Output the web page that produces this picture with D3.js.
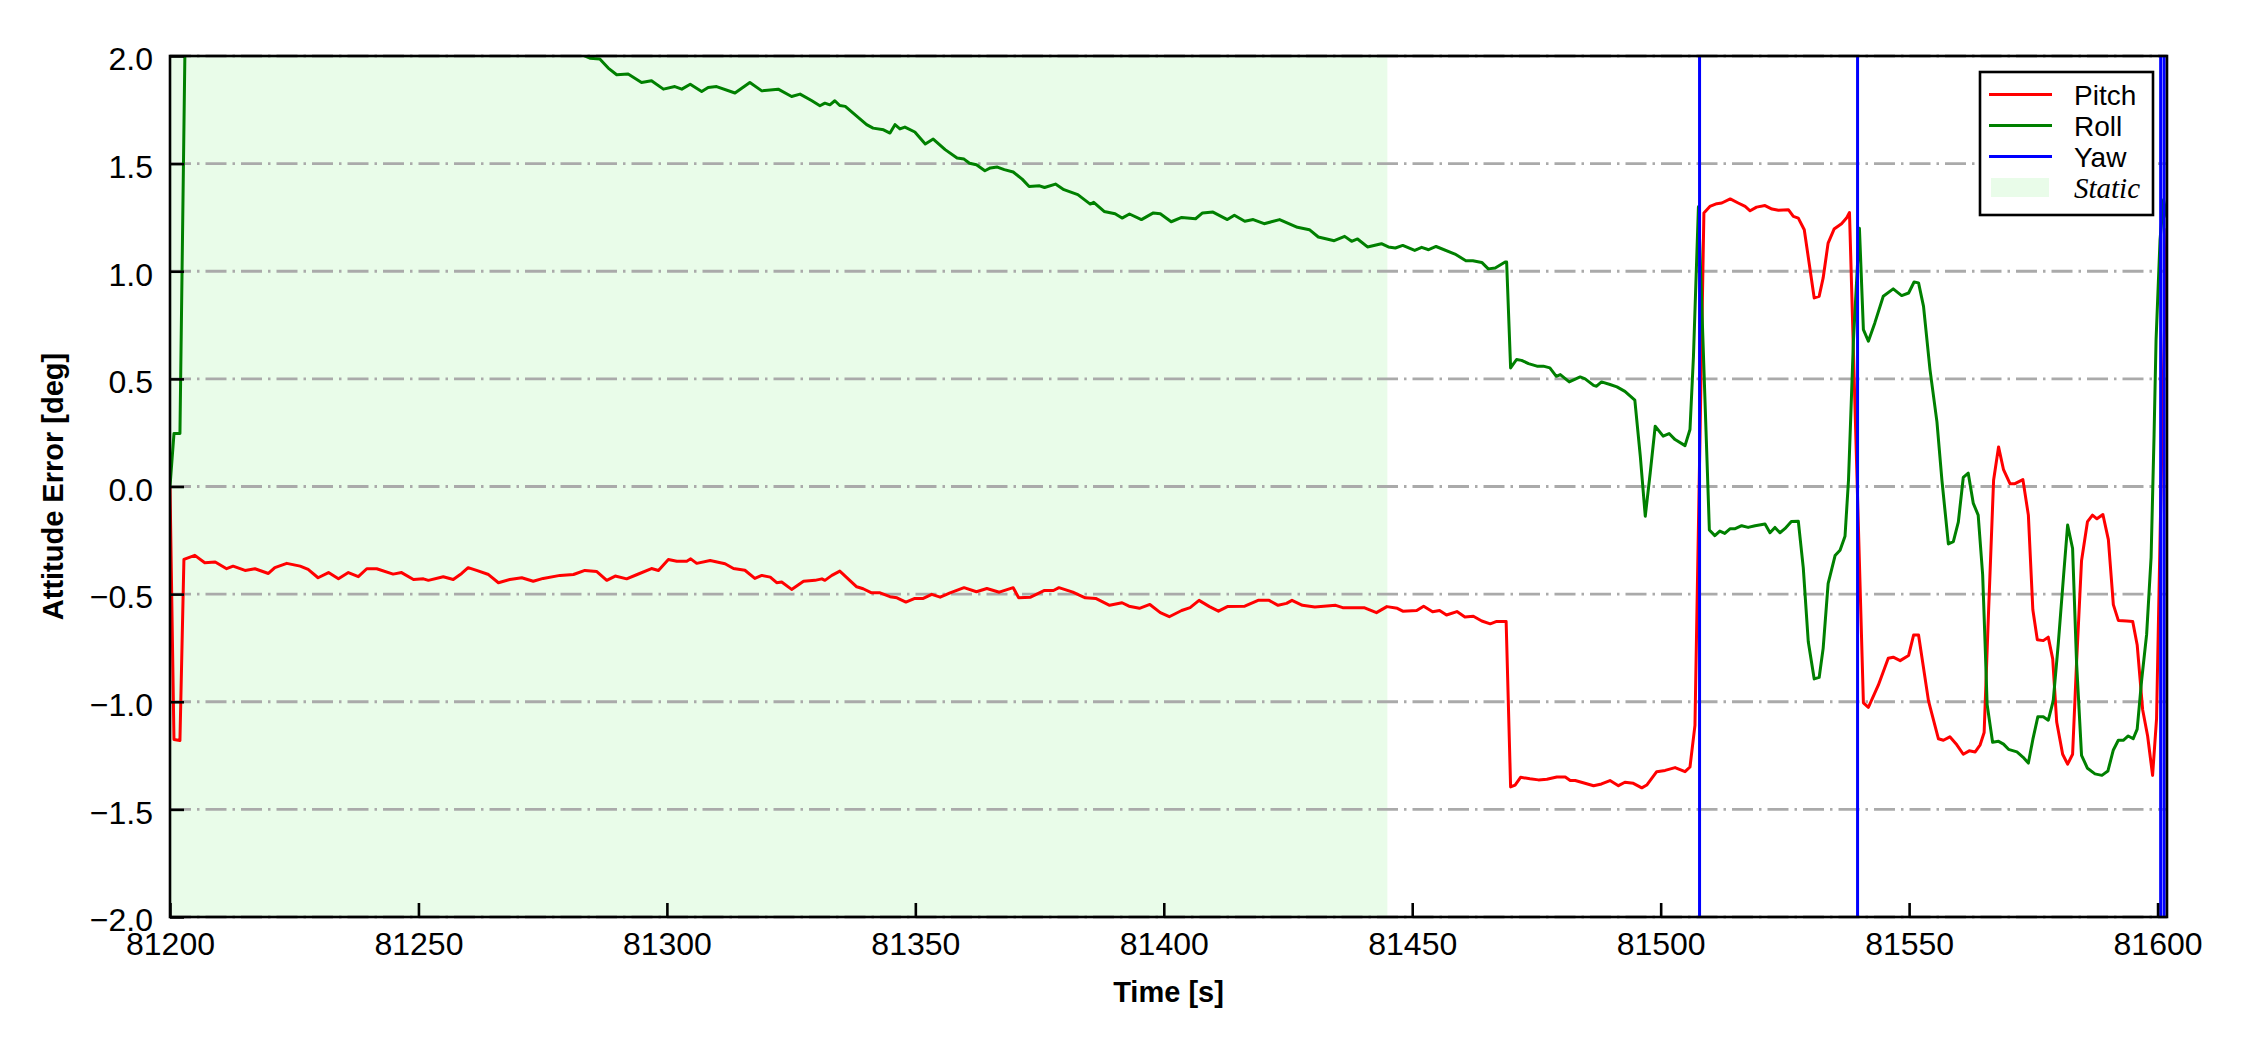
<!DOCTYPE html>
<html>
<head>
<meta charset="utf-8">
<script src="https://cdn.jsdelivr.net/npm/d3@7"></script>
<style>
    html, body { margin: 0; padding: 0; background: #fff; }
    svg { display: block; background: #fff; }
</style>
</head>
<body>
<svg id="chart" width="2250" height="1050"></svg>
<script>
// Time axis (s) and error values (deg)
const pitchTime = [
    81200.0, 81200.8, 81202.0, 81202.8, 81205.0, 81207.0, 81209.1, 81211.4, 81212.7, 81215.1,
    81217.1, 81219.8, 81221.1, 81223.5, 81226.2, 81227.8, 81229.8, 81231.9, 81233.9, 81235.9,
    81237.9, 81239.6, 81241.6, 81244.9, 81246.6, 81249.0, 81251.0, 81252.0, 81255.0, 81257.0,
    81258.7, 81260.0, 81261.7, 81264.1, 81266.1, 81268.4, 81270.8, 81273.1, 81275.1, 81278.5,
    81281.2, 81283.5, 81285.9, 81287.9, 81289.6, 81291.9, 81293.9, 81296.9, 81298.3, 81300.3,
    81302.0, 81304.0, 81304.8, 81306.0, 81308.7, 81311.7, 81313.4, 81315.7, 81317.7, 81319.1,
    81320.8, 81322.1, 81323.1, 81325.1, 81327.5, 81329.8, 81331.2, 81331.8, 81333.2, 81334.8,
    81338.2, 81339.5, 81341.2, 81342.9, 81344.9, 81346.3, 81348.1, 81349.9, 81351.6, 81353.3,
    81355.0, 81357.0, 81359.8, 81362.3, 81364.4, 81366.9, 81369.7, 81370.8, 81373.2, 81376.0,
    81377.8, 81378.9, 81381.7, 81384.2, 81386.3, 81389.1, 81391.6, 81393.0, 81395.1, 81397.2,
    81399.3, 81401.1, 81403.6, 81405.3, 81407.1, 81409.2, 81411.0, 81412.8, 81416.3, 81419.1,
    81421.2, 81423.0, 81424.7, 81425.8, 81427.9, 81430.4, 81434.6, 81436.0, 81440.3, 81442.8,
    81444.9, 81447.0, 81448.1, 81450.9, 81452.3, 81454.1, 81455.5, 81456.9, 81459.0, 81460.6,
    81462.3, 81464.0, 81465.7, 81467.0, 81468.9, 81469.8, 81470.7, 81471.8, 81473.7, 81475.4,
    81477.1, 81479.1, 81480.8, 81481.8, 81482.8, 81484.4, 81486.5, 81488.1, 81489.8, 81491.5,
    81492.8, 81494.5, 81496.2, 81497.2, 81499.2, 81500.9, 81502.9, 81504.9, 81505.9, 81506.9,
    81508.7, 81509.9, 81511.3, 81512.3, 81514.0, 81515.6, 81517.0, 81518.0, 81519.3, 81521.0,
    81522.4, 81523.7, 81525.7, 81526.7, 81527.7, 81528.9, 81530.9, 81531.9, 81532.7, 81533.7,
    81534.9, 81536.4, 81537.4, 81538.0, 81540.8, 81541.8, 81543.8, 81545.8, 81546.8, 81548.2,
    81549.9, 81550.9, 81551.9, 81553.9, 81555.9, 81556.9, 81558.2, 81559.6, 81560.9, 81562.1,
    81563.3, 81564.3, 81565.1, 81566.0, 81567.0, 81568.0, 81569.0, 81570.3, 81571.3, 81572.9,
    81574.0, 81574.9, 81575.8, 81577.0, 81578.0, 81578.9, 81579.7, 81580.9, 81581.9, 81582.9,
    81583.7, 81584.7, 81585.9, 81586.9, 81587.8, 81589.0, 81590.1, 81591.1, 81592.1, 81593.8,
    81595.0, 81595.9, 81597.0, 81598.0, 81599.0, 81599.8, 81601.0, 81601.9
]
const pitchValues = [
    0, -1.175, -1.18, -0.339, -0.32, -0.354, -0.351, -0.382, -0.37, -0.39,
    -0.382, -0.404, -0.377, -0.357, -0.37, -0.385, -0.424, -0.4, -0.429, -0.4,
    -0.419, -0.382, -0.382, -0.407, -0.4, -0.432, -0.429, -0.436, -0.419, -0.432,
    -0.404, -0.377, -0.39, -0.409, -0.447, -0.432, -0.424, -0.44, -0.427, -0.413,
    -0.409, -0.39, -0.395, -0.436, -0.416, -0.429, -0.41, -0.381, -0.39, -0.339,
    -0.347, -0.347, -0.336, -0.357, -0.344, -0.359, -0.381, -0.389, -0.427, -0.413,
    -0.421, -0.447, -0.444, -0.478, -0.44, -0.436, -0.429, -0.436, -0.413, -0.393,
    -0.466, -0.475, -0.494, -0.494, -0.512, -0.517, -0.537, -0.52, -0.52, -0.501,
    -0.514, -0.494, -0.47, -0.489, -0.474, -0.491, -0.47, -0.517, -0.514, -0.483,
    -0.483, -0.47, -0.491, -0.517, -0.52, -0.552, -0.54, -0.556, -0.566, -0.548,
    -0.586, -0.605, -0.576, -0.563, -0.529, -0.558, -0.579, -0.558, -0.556, -0.528,
    -0.529, -0.552, -0.543, -0.529, -0.552, -0.56, -0.552, -0.563, -0.563, -0.586,
    -0.558, -0.566, -0.579, -0.576, -0.556, -0.582, -0.576, -0.597, -0.581, -0.606,
    -0.603, -0.625, -0.638, -0.627, -0.627, -1.396, -1.387, -1.351, -1.358, -1.363,
    -1.36, -1.35, -1.35, -1.366, -1.366, -1.376, -1.39, -1.382, -1.366, -1.39,
    -1.374, -1.379, -1.4, -1.387, -1.325, -1.319, -1.306, -1.325, -1.303, -1.11,
    1.271, 1.301, 1.314, 1.317, 1.336, 1.317, 1.301, 1.281, 1.298, 1.305,
    1.289, 1.283, 1.286, 1.255, 1.247, 1.193, 0.876, 0.884, 0.969, 1.131,
    1.196, 1.221, 1.247, 1.273, -1.005, -1.026, -0.923, -0.798, -0.793, -0.809,
    -0.785, -0.69, -0.69, -0.996, -1.172, -1.179, -1.163, -1.2, -1.244, -1.228,
    -1.233, -1.2, -1.143, -0.573, 0.029, 0.184, 0.078, 0.013, 0.013, 0.032,
    -0.133, -0.573, -0.712, -0.716, -0.7, -0.801, -1.094, -1.244, -1.29, -1.244,
    -0.818, -0.345, -0.163, -0.133, -0.15, -0.13, -0.247, -0.549, -0.622, -0.625,
    -0.627, -0.736, -1.037, -1.159, -1.342, -1.078, 0.35, 1.2
]

const rollTime = [
    81200.0, 81200.8, 81202.0, 81203.5, 81220.0, 81250.0, 81275.0, 81282.5, 81284.5, 81286.5,
    81288.2, 81289.9, 81292.2, 81294.9, 81296.9, 81299.3, 81301.6, 81303.0, 81304.7, 81307.0,
    81308.3, 81310.0, 81313.7, 81316.7, 81319.1, 81322.4, 81325.1, 81326.8, 81329.1, 81330.8,
    81331.8, 81332.8, 81333.8, 81334.8, 81335.9, 81340.2, 81341.5, 81343.6, 81344.9, 81345.9,
    81346.9, 81347.9, 81349.9, 81352.0, 81353.6, 81356.0, 81358.4, 81359.8, 81360.9, 81362.3,
    81364.0, 81365.1, 81366.5, 81367.9, 81369.7, 81371.5, 81372.9, 81375.0, 81376.0, 81378.2,
    81379.9, 81382.7, 81385.2, 81385.9, 81388.0, 81390.2, 81391.6, 81393.1, 81395.5, 81397.9,
    81399.3, 81401.5, 81403.6, 81406.4, 81407.8, 81409.9, 81412.8, 81414.2, 81416.3, 81418.0,
    81420.2, 81423.3, 81426.9, 81429.3, 81431.1, 81434.3, 81436.4, 81437.8, 81439.0, 81441.0,
    81443.8, 81445.2, 81446.6, 81448.1, 81450.5, 81451.9, 81453.3, 81454.8, 81458.6, 81460.8,
    81462.2, 81464.0, 81465.3, 81466.7, 81468.7, 81469.0, 81469.8, 81471.0, 81472.0, 81473.4,
    81475.1, 81476.4, 81477.7, 81479.0, 81479.8, 81481.6, 81483.8, 81484.8, 81486.5, 81487.1,
    81488.1, 81489.8, 81491.2, 81492.8, 81494.8, 81495.9, 81496.9, 81497.9, 81498.9, 81500.5,
    81501.7, 81502.9, 81504.9, 81505.9, 81506.6, 81507.6, 81509.8, 81510.9, 81511.9, 81512.9,
    81514.0, 81515.0, 81516.3, 81517.6, 81519.0, 81521.0, 81522.0, 81523.0, 81524.0, 81525.0,
    81526.3, 81527.7, 81528.7, 81529.7, 81530.9, 81531.9, 81532.7, 81533.7, 81535.1, 81536.1,
    81537.1, 81537.8, 81538.8, 81540.0, 81540.8, 81541.8, 81543.1, 81544.8, 81546.8, 81548.5,
    81549.9, 81551.0, 81551.9, 81552.9, 81554.2, 81555.6, 81556.6, 81557.9, 81558.9, 81559.9,
    81560.9, 81561.9, 81562.9, 81563.9, 81564.8, 81565.3, 81565.7, 81566.8, 81568.0, 81569.0,
    81570.0, 81571.7, 81572.9, 81574.0, 81574.9, 81575.9, 81577.0, 81578.0, 81579.0, 81580.0,
    81581.1, 81581.9, 81582.9, 81583.7, 81584.7, 81585.9, 81587.4, 81588.8, 81590.0, 81591.1,
    81592.1, 81593.1, 81594.1, 81595.1, 81595.9, 81596.8, 81597.8, 81598.7, 81599.3, 81599.7,
    81600.5, 81601.2, 81601.9
]
const rollValues = [
    0, 0.246, 0.246, 2.9, 2.8, 2.5, 2.15, 2.01, 1.99, 1.986,
    1.944, 1.913, 1.916, 1.877, 1.885, 1.846, 1.858, 1.846, 1.869, 1.835,
    1.854, 1.858, 1.828, 1.877, 1.838, 1.846, 1.812, 1.823, 1.793, 1.769,
    1.781, 1.773, 1.792, 1.77, 1.766, 1.681, 1.665, 1.657, 1.642, 1.681,
    1.661, 1.67, 1.647, 1.591, 1.614, 1.565, 1.526, 1.521, 1.502, 1.495,
    1.467, 1.48, 1.484, 1.472, 1.461, 1.428, 1.394, 1.397, 1.389, 1.405,
    1.379, 1.356, 1.312, 1.32, 1.278, 1.267, 1.247, 1.266, 1.24, 1.271,
    1.267, 1.23, 1.25, 1.244, 1.271, 1.275, 1.24, 1.26, 1.232, 1.24,
    1.221, 1.24, 1.204, 1.193, 1.159, 1.142, 1.162, 1.139, 1.15, 1.113,
    1.128, 1.113, 1.108, 1.12, 1.097, 1.111, 1.1, 1.115, 1.08, 1.049,
    1.049, 1.041, 1.011, 1.015, 1.043, 1.043, 0.551, 0.59, 0.586, 0.571,
    0.559, 0.559, 0.551, 0.512, 0.52, 0.486, 0.509, 0.5, 0.47, 0.466,
    0.486, 0.474, 0.463, 0.442, 0.401, 0.141, -0.138, 0.064, 0.28, 0.234,
    0.246, 0.218, 0.19, 0.265, 0.605, 1.3, -0.202, -0.228, -0.207, -0.218,
    -0.196, -0.196, -0.182, -0.19, -0.182, -0.174, -0.215, -0.19, -0.215, -0.196,
    -0.163, -0.161, -0.378, -0.72, -0.894, -0.887, -0.752, -0.451, -0.321, -0.296,
    -0.231, 0.029, 0.68, 1.2, 0.729, 0.675, 0.76, 0.884, 0.918, 0.887,
    0.899, 0.95, 0.946, 0.837, 0.543, 0.3, 0.03, -0.267, -0.256, -0.166,
    0.042, 0.062, -0.077, -0.133, -0.41, -0.736, -1.013, -1.188, -1.184, -1.197,
    -1.221, -1.233, -1.257, -1.285, -1.175, -1.07, -1.07, -1.086, -0.996, -0.736,
    -0.41, -0.179, -0.288, -0.818, -1.249, -1.309, -1.335, -1.342, -1.322, -1.224,
    -1.179, -1.179, -1.159, -1.172, -1.127, -0.899, -0.687, -0.329, 0.241, 0.682,
    1.147, 1.332, 1.25
]

// Yaw error sits far outside the window, only its wrap-arounds cross it
const yawTime = [81200.0, 81507.8, 81507.85, 81539.6, 81539.65, 81600.6, 81600.65, 81601.3, 81601.35, 81601.9]
const yawValues = [-176, -178, 179, 178, -179, -177, 178, 179, -178, -177]

const staticSpan = [81200, 81445]
const xDomain = [81200, 81601.9]
const yDomain = [-2, 2]
const xTicks = [81200, 81250, 81300, 81350, 81400, 81450, 81500, 81550, 81600]
const yTicks = [-2, -1.5, -1, -0.5, 0, 0.5, 1, 1.5, 2]
const seriesNames = ['Pitch', 'Roll', 'Yaw']
const staticName = 'Static'

const colors = { Pitch: '#ff0000', Roll: '#008000', Yaw: '#0000ff' }
const staticColor = 'rgb(233,252,233)'
const sans = '"Liberation Sans", Arial, Helvetica, sans-serif'
const serif = '"Liberation Serif", "Times New Roman", serif'

const width = 2250
const height = 1050
const margin = { top: 56, right: 83, bottom: 133, left: 170 }
const plotW = width - margin.left - margin.right
const plotH = height - margin.top - margin.bottom

let svg = d3.select('#chart')

let x = d3.scaleLinear().domain(xDomain).range([0, plotW])
let y = d3.scaleLinear().domain(yDomain).range([plotH, 0])

svg.append('defs')
    .append('clipPath')
    .attr('id', 'plot-clip')
    .append('rect')
    .attr('width', plotW)
    .attr('height', plotH)

let graphArea = svg.append('g')
    .attr('transform', `translate(${margin.left},${margin.top})`)

// Static period shading
graphArea.append('rect')
    .attr('x', x(staticSpan[0]))
    .attr('y', 0)
    .attr('width', x(staticSpan[1]) - x(staticSpan[0]))
    .attr('height', plotH)
    .attr('fill', staticColor)

// Horizontal dash-dot grid
graphArea.append('g')
    .selectAll('line')
    .data(yTicks)
    .join('line')
    .attr('x1', 0)
    .attr('x2', plotW)
    .attr('y1', d => y(d))
    .attr('y2', d => y(d))
    .attr('stroke', '#aaaaaa')
    .attr('stroke-width', 2.8)
    .attr('stroke-dasharray', '21,6,2.5,6')

let series = [
    { name: 'Pitch', points: d3.zip(pitchTime, pitchValues) },
    { name: 'Roll', points: d3.zip(rollTime, rollValues) },
    { name: 'Yaw', points: d3.zip(yawTime, yawValues) }
]

let lineGen = d3.line()
    .x(d => x(d[0]))
    .y(d => y(d[1]))

graphArea.append('g')
    .attr('clip-path', 'url(#plot-clip)')
    .selectAll('path')
    .data(series)
    .join('path')
    .attr('d', d => lineGen(d.points))
    .attr('fill', 'none')
    .attr('stroke', d => colors[d.name])
    .attr('stroke-width', 3)
    .attr('stroke-linejoin', 'round')

// Axes with inward ticks
let xAxis = d3.axisBottom(x)
    .tickValues(xTicks)
    .tickFormat(d3.format('d'))
    .tickSizeInner(-14)
    .tickSizeOuter(0)
    .tickPadding(15)

let yAxis = d3.axisLeft(y)
    .tickValues(yTicks)
    .tickFormat(d3.format('.1f'))
    .tickSizeInner(-14)
    .tickSizeOuter(0)
    .tickPadding(17)

graphArea.append('g')
    .attr('transform', `translate(0,${plotH})`)
    .call(xAxis)
    .attr('font-family', sans)
    .attr('font-size', 32)
    .call(a => a.select('.domain').remove())
    .call(a => a.selectAll('.tick line').attr('stroke', '#000').attr('stroke-width', 2.6))
    .call(a => a.selectAll('.tick text').attr('fill', '#000'))

graphArea.append('g')
    .call(yAxis)
    .attr('font-family', sans)
    .attr('font-size', 32)
    .call(a => a.select('.domain').remove())
    .call(a => a.selectAll('.tick line').attr('stroke', '#000').attr('stroke-width', 2.6))
    .call(a => a.selectAll('.tick text').attr('fill', '#000').attr('dy', '0.43em'))

// Frame
graphArea.append('rect')
    .attr('width', plotW)
    .attr('height', plotH)
    .attr('fill', 'none')
    .attr('stroke', '#000')
    .attr('stroke-width', 2.6)

// Legend
let legendItems = seriesNames.concat([staticName])
let legend = graphArea.append('g')
    .attr('transform', `translate(${plotW - 187},16)`)

legend.append('rect')
    .attr('width', 173)
    .attr('height', 143)
    .attr('fill', '#fff')
    .attr('stroke', '#000')
    .attr('stroke-width', 2.6)

let rows = legend.selectAll('g.row')
    .data(legendItems)
    .join('g')
    .attr('class', 'row')
    .attr('transform', (d, i) => `translate(0,${22.5 + i * 31})`)

rows.filter(d => d !== staticName)
    .append('line')
    .attr('x1', 9)
    .attr('x2', 72)
    .attr('stroke', d => colors[d])
    .attr('stroke-width', 3)

rows.filter(d => d === staticName)
    .append('rect')
    .attr('x', 11)
    .attr('y', -9.5)
    .attr('width', 58)
    .attr('height', 19)
    .attr('fill', staticColor)

rows.append('text')
    .attr('x', 94)
    .attr('y', 10)
    .attr('text-anchor', 'start')
    .attr('font-family', d => d === staticName ? serif : sans)
    .attr('font-style', d => d === staticName ? 'italic' : 'normal')
    .attr('font-size', d => d === staticName ? 29 : 28)
    .text(d => d)

// Axis titles
svg.append('text')
    .attr('x', margin.left + plotW / 2)
    .attr('y', 1002)
    .attr('text-anchor', 'middle')
    .attr('font-family', sans)
    .attr('font-weight', 'bold')
    .attr('font-size', 29)
    .text('Time [s]')

svg.append('text')
    .attr('transform', `translate(63,${margin.top + plotH / 2}) rotate(-90)`)
    .attr('text-anchor', 'middle')
    .attr('font-family', sans)
    .attr('font-weight', 'bold')
    .attr('font-size', 29)
    .text('Attitude Error [deg]')
</script>
</body>
</html>
